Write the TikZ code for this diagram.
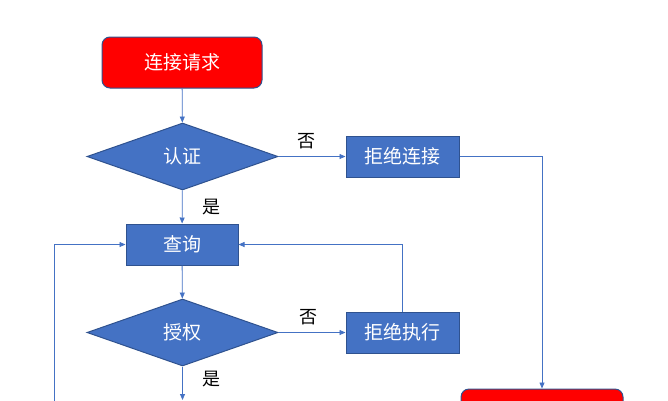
\documentclass[tikz,border=0pt]{standalone}
\usepackage{fontspec}
\newfontfamily\cjk{Noto Sans CJK SC}
\usepackage{tikz}
\usetikzlibrary{shapes.geometric, arrows.meta}
\definecolor{accent}{HTML}{4472C4}
\definecolor{edge}{HTML}{2F528F}
\definecolor{alarm}{HTML}{FF0000}
\tikzset{redbox/.style = {draw = edge, line width = 1, fill = alarm, rounded corners = 8, text = white, minimum width = 160, minimum height = 51, font = \cjk\fontsize{19}{22}\selectfont},
    bluebox/.style = {draw = edge, line width = 1, fill = accent, text = white, minimum width = 113, minimum height = 41, font = \cjk\fontsize{19}{22}\selectfont},
    dia/.style = {diamond, aspect = 3, inner sep = 0, draw = edge, line width = 1, fill = accent, text = white, minimum width = 191, minimum height = 67, font = \cjk\fontsize{19}{22}\selectfont},
    line/.style = {draw = accent, line width = 0.8, -{Triangle[length = 6, width = 5]}},
    lbl/.style = {font = \cjk\fontsize{18}{20}\selectfont}}

\begin{document}
\begin{tikzpicture}[x = 1pt, y = -1pt]
    \useasboundingbox (0, 0) rectangle (668, 400);
    \clip (0, 0) rectangle (668, 400);

    \node [redbox] (req) at (182, 62.5) {连接请求};
    \node [dia] (auth) at (182.5, 156.5) {认证};
    \node [bluebox] (rejc) at (402.5, 156.5) {拒绝连接};
    \node [bluebox, minimum width = 112] (query) at (182, 244.5) {查询};
    \node [dia] (authz) at (182.5, 332.5) {授权};
    \node [bluebox] (rejx) at (402.5, 332.5) {拒绝执行};
    \node [redbox, minimum width = 162] (done) at (542, 414.5) {};

    \coordinate (next) at (182.5, 400);
    \coordinate (back) at (54, 401);

    \node [lbl] (no1) at (306, 141) {否};
    \node [lbl] (no2) at (308, 317) {否};
    \node [lbl] (yes1) at (211, 207) {是};
    \node [lbl] (yes2) at (211, 379) {是};

    \draw [line] (req) -- (auth);
    \draw [line] (auth) -- (rejc);
    \draw [line] (rejc.east) -| (done.north);
    \draw [line] (auth) -- (query);
    \draw [line] (query) -- (authz);
    \draw [line] (authz) -- (rejx);
    \draw [line] (rejx.north) |- (query.east);
    \draw [line] (authz) -- (next);
    \draw [line] (back) |- (query.west);
\end{tikzpicture}
\end{document}
